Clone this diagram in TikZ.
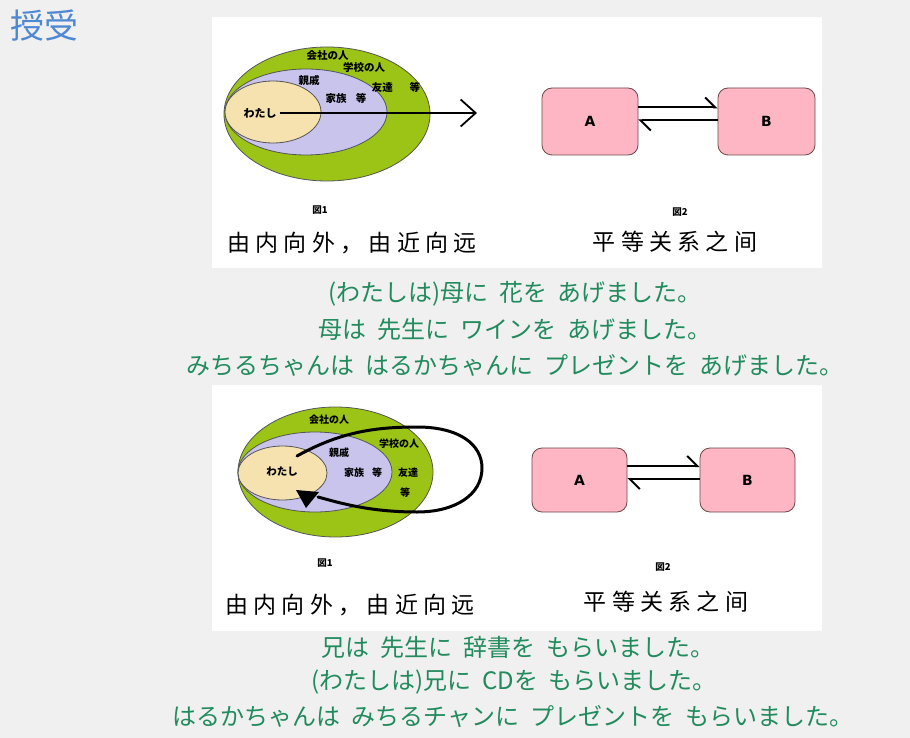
\documentclass[tikz,border=0pt]{standalone}
\usepackage{fontspec}
\usetikzlibrary{arrows.meta,shapes.geometric}
\setsansfont{DejaVu Sans}
\newfontfamily\jpfont{Noto Sans CJK JP}
\newfontfamily\wide[LetterSpace=23]{Noto Sans CJK SC}

\definecolor{pagebg}{RGB}{240,240,240}
\definecolor{leaf}{RGB}{155,196,22}
\definecolor{lav}{RGB}{200,196,236}
\definecolor{sand}{RGB}{245,226,174}
\definecolor{rosebox}{RGB}{255,182,196}
\definecolor{sentence}{RGB}{34,139,94}
\definecolor{titleblue}{RGB}{78,136,210}
\definecolor{rim}{RGB}{85,85,85}

\newcommand\gap{\hspace{0.45em}}

\tikzset{
  ring/.style={ellipse, draw=rim, line width=0.8pt, inner sep=0pt},
  lbl/.style={font=\jpfont\bfseries\fontsize{10.5}{12}\selectfont, inner sep=0pt},
  lbls/.style={font=\jpfont\bfseries\fontsize{10}{12}\selectfont, inner sep=0pt},
  figno/.style={font=\jpfont\bfseries\fontsize{9.5}{10}\selectfont, inner sep=0pt},
  caption/.style={font=\wide\fontsize{23}{26}\selectfont, inner sep=0pt},
  party/.style={draw=rim!85!red, line width=0.8pt, fill=rosebox, rounded corners=10pt,
    font=\sffamily\bfseries\fontsize{14}{16}\selectfont},
  harp/.style={line width=2pt, -{Straight Barb[left, length=10pt, width=20pt]}},
  sent/.style={font=\jpfont\fontsize{24}{28}\selectfont, text=sentence, inner sep=0pt},
}

\begin{document}
\begin{tikzpicture}[x=1pt, y=-1pt]
  % page and panels
  \fill[pagebg] (0,0) rectangle (910,738);
  \useasboundingbox (0,0) rectangle (910,738);
  \fill[white] (212,17) rectangle (822,268);
  \fill[white] (212,385) rectangle (822,631);

  % heading
  \node[font=\jpfont\fontsize{34}{36}\selectfont, text=titleblue, inner sep=0pt] (title) at (44,26) {授受};

  % ---------- upper panel: circles of relations ----------
  \node[ring, fill=leaf, minimum width=206pt, minimum height=134pt] (outerA) at (327,114) {};
  \node[ring, fill=lav,  minimum width=162pt, minimum height=86pt]  (midA)   at (306,112) {};
  \node[ring, fill=sand, minimum width=96pt,  minimum height=62pt]  (innerA) at (273,112) {};

  \node[lbl] (kaishaA) at (327.5,56) {会社の人};
  \node[lbl] (gakkoA)  at (364,67)  {学校の人};
  \node[lbl] (shinA)   at (309,80)  {親戚};
  \node[lbl] (kazokuA) at (346,98)  {家族\hspace{0.9em}等};
  \node[lbl] (tomoA)   at (396,87)  {友達\hspace{1.6em}等};
  \node[lbl, font=\jpfont\bfseries\fontsize{11}{12}\selectfont] (meA) at (260,113) {わたし};

  \coordinate (farA) at (477,113);
  \draw[line width=1.8pt, -{Straight Barb[length=15pt, width=27pt]}] (meA.east) ++(3,0) -- (farA);

  \node[figno] (figA1) at (320,210) {図1};
  \node[caption] (capA1) at (352,243) {由内向外，由近向远};

  % ---------- upper panel: equal partners ----------
  \node[party, minimum width=96pt, minimum height=67pt] (pA) at (590,121.5) {A};
  \node[party, minimum width=97pt, minimum height=67pt] (pB) at (766.5,121.5) {B};
  \draw[harp] ([yshift=14pt]pA.east) -- ([yshift=14pt]pB.west);
  \draw[harp] ([yshift=1pt]pB.west) -- ([yshift=1pt]pA.east);

  \node[figno] (figA2) at (680,212) {図2};
  \node[caption] (capA2) at (675,242) {平等关系之间};

  % ---------- sentences with あげる ----------
  \node[sent] (s1) at (515,294) {(わたしは)母に\gap 花を\gap あげました。};
  \node[sent] (s2) at (515,329) {母は\gap 先生に\gap ワインを\gap あげました。};
  \node[sent] (s3) at (515,365) {みちるちゃんは\gap はるかちゃんに\gap プレゼントを\gap あげました。};

  % ---------- lower panel: circles with returning loop ----------
  \node[ring, fill=leaf, minimum width=195pt, minimum height=130pt] (outerB) at (335.5,472) {};
  \node[ring, fill=lav,  minimum width=154pt, minimum height=80pt]  (midB)   at (315,472) {};
  \node[ring, fill=sand, minimum width=89pt,  minimum height=54pt]  (innerB) at (282.5,473) {};

  \node[lbls] (kaishaB) at (329,420) {会社の人};
  \node[lbls] (gakkoB)  at (399,444) {学校の人};
  \node[lbls] (shinB)   at (339,453) {親戚};
  \node[lbls] (kazokuB) at (363,473) {家族\hspace{0.8em}等};
  \node[lbls] (tomoB)   at (408,473) {友達};
  \node[lbls] (toB)     at (405,493) {等};
  \node[lbls, font=\jpfont\bfseries\fontsize{10.5}{12}\selectfont] (meB) at (282,472) {わたし};

  \coordinate (loopS) at (297,456);
  \coordinate (loopE) at (318,497);
  \draw[line width=3pt, line cap=round] (loopS)
    .. controls (340,432) and (375,427) .. (417,427)
    .. controls (460,427) and (482,445) .. (482,468)
    .. controls (482,495) and (455,512) .. (417,512)
    .. controls (370,512) and (340,503) .. (loopE);
  \fill[black] (296,490) -- (319,492) -- (306,508) -- cycle;

  \node[figno] (figB1) at (325,563) {図1};
  \node[caption] (capB1) at (350,605) {由内向外，由近向远};

  % ---------- lower panel: equal partners ----------
  \node[party, minimum width=95pt, minimum height=64pt] (qA) at (579.5,480) {A};
  \node[party, minimum width=95pt, minimum height=64pt] (qB) at (747.5,480) {B};
  \draw[harp] ([yshift=14pt]qA.east) -- ([yshift=14pt]qB.west);
  \draw[harp] ([yshift=1pt]qB.west) -- ([yshift=1pt]qA.east);

  \node[figno] (figB2) at (663,567) {図2};
  \node[caption] (capB2) at (666,602) {平等关系之间};

  % ---------- sentences with もらう ----------
  \node[sent] (s4) at (518,647) {兄は\gap 先生に\gap 辞書を\gap もらいました。};
  \node[sent] (s5) at (514,682) {(わたしは)兄に\gap CDを\gap もらいました。};
  \node[sent] (s6) at (513,717) {はるかちゃんは\gap みちるチャンに\gap プレゼントを\gap もらいました。};
\end{tikzpicture}
\end{document}
